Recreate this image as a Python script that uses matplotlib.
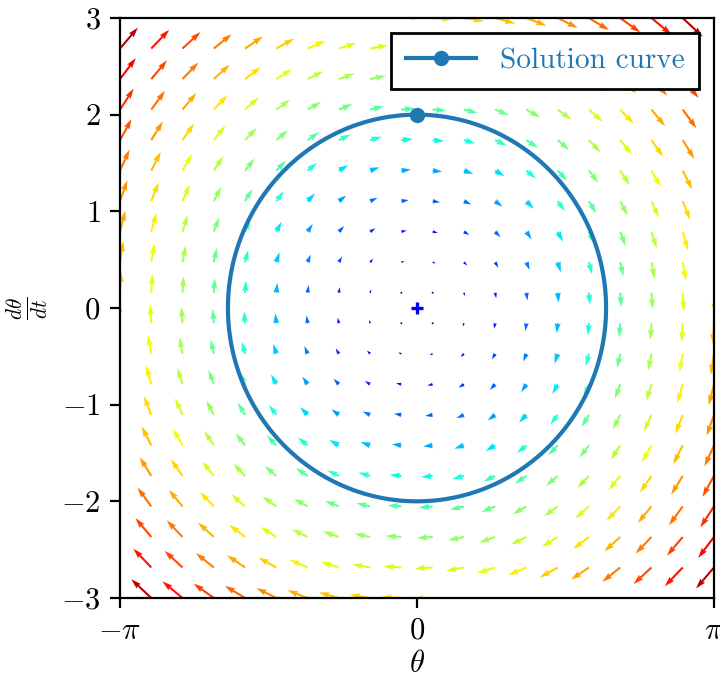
import numpy as np
import matplotlib
matplotlib.use("Agg")
import matplotlib.pyplot as plt

plt.rcParams['font.family'] = 'serif'
plt.rcParams['font.serif'] = ['cmr10']
plt.rcParams['mathtext.fontset'] = 'cm'
plt.rcParams['axes.formatter.use_mathtext'] = True
plt.rcParams['font.size'] = 11

# phase plane grid for the linearised pendulum  theta'' = -theta
theta_lim = (-np.pi, np.pi)
omega_lim = (-3, 3)
n_grid = 20
start = (0.0, 2.0)       # initial (theta, dtheta/dt)
t_end = 2 * np.pi
n_steps = 400

xtick_pos = [-np.pi, 0, np.pi]
xtick_lab = [r'$-\pi$', r'$0$', r'$\pi$']
ytick_pos = [-3, -2, -1, 0, 1, 2, 3]


def field(state):
    th, om = state
    return np.array([om, -th])


# RK4 integration of the solution curve
dt = t_end / n_steps
sol = [np.array(start)]
for i in range(n_steps):
    s = sol[-1]
    k1 = field(s)
    k2 = field(s + dt / 2 * k1)
    k3 = field(s + dt / 2 * k2)
    k4 = field(s + dt * k3)
    sol.append(s + dt / 6 * (k1 + 2 * k2 + 2 * k3 + k4))
sol = np.array(sol)

th = np.linspace(*theta_lim, n_grid)
om = np.linspace(*omega_lim, n_grid)
T, W = np.meshgrid(th, om)
U, V = field((T, W))
M = np.hypot(U, V)

fig = plt.figure(figsize=(3.6, 3.395), dpi=200)
ax = fig.add_axes([120 / 720, 1 - 598 / 679, 594 / 720, 580 / 679])

ax.quiver(T, W, U, V, M, cmap='jet', pivot='tail', width=0.0035)
ax.plot(sol[:, 0], sol[:, 1], '-o', color='C0', markevery=[0],
        markersize=4.5, label='Solution curve')
ax.plot(0, 0, 'b+', markersize=4, mew=1.2)

ax.set_xlim(*theta_lim)
ax.set_ylim(*omega_lim)
ax.set_xticks(xtick_pos)
ax.set_xticklabels(xtick_lab)
ax.set_yticks(ytick_pos)
ax.set_xlabel(r'$\theta$', labelpad=2)
ax.set_ylabel(r'$\frac{d\theta}{dt}$')

ax.legend(loc='upper right', fancybox=False, edgecolor='black',
          framealpha=1, labelcolor='linecolor', fontsize=10.6,
          handlelength=2.4, borderpad=0.5)

fig.savefig('out.png', dpi=200)
